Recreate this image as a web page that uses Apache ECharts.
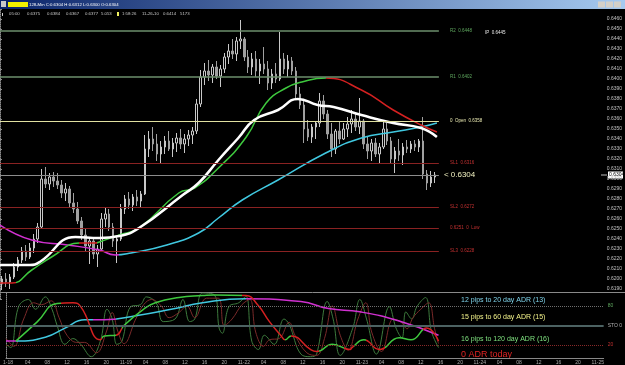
<!DOCTYPE html>
<html>
<head>
<meta charset="utf-8">
<script src="https://cdn.jsdelivr.net/npm/echarts@6/dist/echarts.min.js"></script>
<style>
html, body { margin: 0; padding: 0; background: #000; }
#chart { width: 625px; height: 365px; }
</style>
</head>
<body>
<div id="chart"></div>
<script>
// prices are kept in pips (0.6304 -> 6304)
const barOpen = [
  6195,6200,6197,6202,6212,6219,6228,6222,6231,6240, 6252,6300,6295,6302,6298,6294,6286,6290,6276,6270,
  6258,6244,6233,6238,6225,6230,6260,6265,6252,6238, 6240,6270,6280,6274,6282,6278,6285,6330,6340,6335,
  6325,6332,6338,6330,6336,6341,6335,6340,6344,6348, 6375,6402,6408,6404,6412,6403,6410,6422,6428,6425,
  6438,6440,6422,6412,6420,6408,6415,6410,6396,6405, 6400,6420,6410,6418,6408,6385,6374,6350,6342,6352,
  6356,6378,6365,6345,6330,6348,6340,6350,6355,6360, 6352,6358,6335,6328,6336,6325,6332,6350,6338,6320,
  6328,6324,6332,6330,6335,6332,6338,6305,6296,6302
];
const barHigh = [
  6203,6206,6205,6216,6222,6232,6234,6236,6245,6256, 6310,6312,6306,6307,6306,6299,6296,6293,6286,6277,
  6262,6250,6242,6242,6234,6266,6272,6270,6256,6244, 6275,6284,6287,6285,6289,6288,6344,6348,6352,6345,
  6338,6343,6348,6341,6346,6350,6345,6349,6352,6380, 6409,6416,6419,6415,6418,6414,6426,6435,6440,6442,
  6459,6442,6429,6426,6428,6420,6432,6418,6410,6416, 6447,6426,6424,6422,6412,6392,6378,6359,6355,6358,
  6386,6384,6369,6356,6350,6358,6356,6362,6369,6366, 6381,6360,6342,6340,6341,6336,6359,6356,6342,6332,
  6340,6336,6339,6338,6339,6340,6362,6309,6308,6307
];
const barLow = [
  6189,6192,6190,6200,6208,6216,6218,6220,6226,6236, 6250,6291,6289,6292,6290,6281,6278,6272,6266,6255,
  6239,6228,6215,6220,6212,6228,6252,6248,6232,6216, 6238,6265,6270,6268,6273,6272,6284,6322,6328,6318,
  6316,6325,6328,6322,6327,6330,6326,6333,6335,6345, 6372,6394,6398,6396,6400,6392,6406,6415,6420,6418,
  6430,6418,6406,6404,6402,6395,6405,6389,6390,6396, 6398,6405,6402,6404,6379,6370,6336,6338,6336,6340,
  6352,6360,6340,6322,6325,6335,6339,6342,6346,6348, 6345,6330,6320,6318,6322,6316,6330,6334,6315,6306,
  6318,6314,6326,6326,6328,6327,6300,6289,6292,6296
];
const barClose = [
  6200,6197,6202,6212,6219,6228,6222,6231,6240,6252, 6300,6295,6302,6298,6294,6286,6290,6276,6270,6258,
  6244,6233,6238,6225,6230,6260,6265,6252,6238,6240, 6270,6280,6274,6282,6278,6285,6330,6340,6335,6325,
  6332,6338,6330,6336,6341,6335,6340,6344,6348,6375, 6402,6408,6404,6412,6403,6410,6422,6428,6425,6438,
  6440,6422,6412,6420,6408,6415,6410,6396,6405,6400, 6420,6410,6418,6408,6385,6374,6350,6342,6352,6356,
  6378,6365,6345,6330,6348,6340,6350,6355,6360,6352, 6358,6335,6328,6336,6325,6332,6350,6338,6320,6328,
  6324,6332,6330,6335,6332,6338,6305,6296,6302,6304
];

// moving averages: [bar position, pips]
const maWhite = [[0,6214],[7.5,6214],[10,6217],[19,6242],[25,6241],[30,6243],[35,6251],[46,6284],[50,6296],
  [55,6319],[60,6341],[64,6359],[70,6369],[75,6380],[80,6374],[84,6372],[91,6364],[99,6356],[106,6351],[110,6342]];
const maGreen = [[0,6196],[3,6196],[8,6209],[13,6222],[20,6236],[24,6236],[25,6237],[30,6244],[35,6251],[45,6286],
  [49,6291],[55,6311],[62,6342],[67,6376],[72,6391],[76,6397],[82,6401],[91,6389],[99,6369],[106,6354],[110,6347]];
const maCyan = [[0,6254],[8,6239],[17,6234],[25,6229],[29,6224],[33,6226],[42,6234],[50,6246],[55,6261],[61,6279],
  [70,6299],[82,6326],[91,6341],[99,6347],[106,6352],[110,6356]];

// stochastic panel
const stochK = [[0,21],[1.2,16],[3.2,79],[5.7,90],[7.5,75],[10,94],[11.7,75],[13,50],[15,21],[17,30],[19,21],[21.7,2],
  [24,26],[25.7,75],[27,60],[28.2,21],[29.5,26],[31.7,79],[34.2,82],[35.7,94],[38.2,85],[40,56],[43,60],[45,90],
  [46.7,56],[48,60],[50,100],[53,97],[54.2,46],[55,38],[56.7,79],[59.2,85],[61,95],[62.5,26],[64.2,13],[65.7,35],
  [68.2,21],[70.7,60],[72,52],[75,6],[77.5,2],[79,6],[81.7,87],[83.2,60],[85,4],[88.2,46],[90,90],[91.7,60],
  [94.2,6],[97.5,79],[99.2,46],[100.7,31],[101.7,71],[103.2,60],[104.5,79],[106.7,93],[108.2,41],[110,16]];
const stochD = [[0,30],[2,18],[4.5,60],[7,85],[9,82],[11.5,88],[13.5,62],[15.5,35],[18,24],[20,24],[23,8],[25.5,40],
  [27,70],[28.5,40],[30,22],[33,60],[35,82],[37,90],[39.5,80],[41.5,62],[44,70],[46,80],[48,62],[51,92],[54,92],
  [55.5,50],[57.5,60],[60,82],[62,90],[63.5,40],[65.5,18],[67,28],[69.5,30],[72,55],[73.5,35],[76.5,8],[79,4],
  [81,30],[83,80],[85,35],[87,12],[89.5,60],[91.5,85],[93,40],[95.5,10],[98.5,60],[100.5,55],[102,45],[103.5,62],
  [105.5,75],[107.5,85],[109,45],[110,22]];
const stochSlow = [[0,26],[2.5,26],[10,32],[15,46],[20,59],[25,59],[33,65],[42,75],[50,85],[61,91],[75,87],[82,76],
  [90,71],[100,57],[110,35]];
const stochMid = [[2.5,26],[8,56],[13,84],[17,85],[19,79],[24,28],[25,34],[28,35],[30,50],[35,75],[38,85],[44,93],
  [50,96],[53,97],[61,96],[64,82],[67,56],[70,34],[71,28],[72.5,34],[77.5,13],[79,10],[83,21],[87.5,13],[88,16],
  [91,28],[95,13],[100,31],[103,28],[107,46],[110,26]];

const levelValues = [6448, 6402, 6358, 6316, 6272, 6251, 6228];
const levelTexts = ['R2  0.6448', 'R1  0.6402', '0  Open  0.6358', 'SL1  0.6316', 'SL2  0.6272', '0.6251  0  Low', 'SL3  0.6228'];
const lastPrice = 6304;
const stochLevelTexts = {80: '80', 50: 'STO 0', 20: '20'};

const timeLabels = ['1-18','04','08','12','16','20','11-19','04','08','12','16','20','11-22','04','08','12',
  '16','20','11-23','04','08','12','16','20','11-24','04','08','12','16','20','11-25'];
const headerValues = ['05:00','0.6375','0.6384','0.6367','0.6377','5.053','1:58:26','11-26-10','0.6414','5173'];
const adrTexts = ['12 pips to 20 day ADR (13)', '15 pips to 60 day ADR (15)', '16 pips to 120 day ADR (16)', '0 ADR today'];
const titleText = '128-Min C:0.6304 H:0.6312 L:0.6300 O:0.6304';

const slotCount = 152;
const categories = [];
for (let i = 0; i < slotCount; i++) {
  categories.push(i % 5 === 0 ? timeLabels[i / 5] : String(i));
}
const candleData = barOpen.map((o, i) => [o, barClose[i], barLow[i], barHigh[i]]);

const FONT = 'Liberation Sans';
const levelColors = ['#6d8f6d', '#6d8f6d', '#e0e0a0', '#8a2222', '#8a2222', '#8a2222', '#8a2222'];
const levelLabelColors = ['#5fa85f', '#5fa85f', '#e8e8b0', '#c03030', '#c03030', '#c03030', '#c03030'];

const levelLines = levelValues.map((v, i) => [
  {xAxis: 0, yAxis: v, lineStyle: {color: levelColors[i], width: i < 2 ? 1.5 : 1, type: 'solid'},
    label: {show: true, position: 'end', formatter: levelTexts[i], color: levelLabelColors[i], fontSize: 4.5, fontFamily: FONT, distance: 11}},
  {xAxis: 110.5, yAxis: v}
]);
levelLines.push([
  {xAxis: 0, yAxis: lastPrice, lineStyle: {color: '#8c8c8c', width: 1, type: 'solid'},
    label: {show: true, position: 'end', formatter: '< ' + (lastPrice / 10000).toFixed(4), color: '#f0f0c0', fontSize: 8, fontFamily: FONT, distance: 5}},
  {xAxis: 110.5, yAxis: lastPrice}
]);

const stochLines = [
  {yAxis: 80, lineStyle: {color: '#707070', type: 'dotted', width: 1}},
  {yAxis: 50, lineStyle: {color: '#4c6262', type: 'solid', width: 2}},
  {yAxis: 20, lineStyle: {color: '#8a2a2a', type: 'dotted', width: 1}}
];

const chart = echarts.init(document.getElementById('chart'));

chart.setOption({
  backgroundColor: '#000',
  animation: false,
  grid: [
    {left: 0, right: 18, top: 9, height: 290},
    {left: 0, right: 18, top: 293, height: 68}
  ],
  xAxis: [
    {type: 'category', gridIndex: 0, data: categories, show: false},
    {type: 'category', gridIndex: 1, data: categories,
      axisLine: {lineStyle: {color: '#888'}},
      axisTick: {interval: (i) => i % 5 === 0, length: 2, lineStyle: {color: '#888'}},
      axisLabel: {interval: (i) => i % 5 === 0, formatter: (v, i) => i % 5 === 0 ? v : '',
        color: '#aaa', fontSize: 5, fontFamily: FONT, margin: 2}},
    {type: 'value', gridIndex: 0, min: 0, max: slotCount, show: false},
    {type: 'value', gridIndex: 1, min: 0, max: slotCount, show: false}
  ],
  yAxis: [
    {type: 'value', gridIndex: 0, position: 'right', min: 6180, max: 6470, interval: 10,
      splitLine: {show: false},
      axisLine: {show: true, lineStyle: {color: '#8c8c8c', type: 'dotted'}},
      axisTick: {show: true, length: 2, lineStyle: {color: '#8c8c8c'}},
      axisLabel: {color: '#c0c0c0', fontSize: 5, fontFamily: FONT, margin: 3,
        formatter: (v) => (v < 6190 || v > 6460) ? '' : (v / 10000).toFixed(4)}},
    {type: 'value', gridIndex: 1, position: 'right', min: 0, max: 100, interval: 10,
      splitLine: {show: false},
      axisLine: {show: true, lineStyle: {color: '#8c8c8c', type: 'dotted'}},
      axisTick: {show: false},
      axisLabel: {fontSize: 5, fontFamily: FONT, margin: 4,
        formatter: (v) => stochLevelTexts[v] || '',
        color: (v) => v == 80 ? '#5fa85f' : (v == 20 ? '#c03030' : '#b0b0b0')}}
  ],
  visualMap: [
    {show: false, type: 'piecewise', seriesIndex: 3, dimension: 0, pieces: [
      {gte: 0, lt: 4, color: '#d42020'}, {gte: 4, lt: 20, color: '#3ec83e'}, {gte: 20, lt: 24.5, color: '#d42020'},
      {gte: 24.5, lt: 82, color: '#3ec83e'}, {gte: 82, lte: 200, color: '#d42020'}]},
    {show: false, type: 'piecewise', seriesIndex: 2, dimension: 0, pieces: [
      {gte: 0, lt: 30, color: '#d030d0'}, {gte: 30, lte: 200, color: '#40c8e0'}]},
    {show: false, type: 'piecewise', seriesIndex: 8, dimension: 0, pieces: [
      {gte: 0, lt: 2.5, color: '#d030d0'}, {gte: 2.5, lt: 22, color: '#40c8e0'}, {gte: 22, lt: 28, color: '#d030d0'},
      {gte: 28, lt: 61, color: '#40c8e0'}, {gte: 61, lte: 200, color: '#d030d0'}]},
    {show: false, type: 'piecewise', seriesIndex: 9, dimension: 0, pieces: [
      {gte: 0, lt: 14, color: '#3ec83e'}, {gte: 14, lt: 24.5, color: '#d42020'}, {gte: 24.5, lt: 28, color: '#3ec83e'},
      {gte: 28, lt: 29.5, color: '#d42020'}, {gte: 29.5, lt: 60, color: '#3ec83e'}, {gte: 60, lt: 71, color: '#d42020'},
      {gte: 71, lt: 72.5, color: '#3ec83e'}, {gte: 72.5, lt: 79.5, color: '#d42020'}, {gte: 79.5, lt: 86, color: '#3ec83e'},
      {gte: 86, lt: 88.5, color: '#d42020'}, {gte: 88.5, lt: 91.5, color: '#3ec83e'}, {gte: 91.5, lt: 96.5, color: '#d42020'},
      {gte: 96.5, lt: 106, color: '#3ec83e'}, {gte: 106, lte: 200, color: '#d42020'}]}
  ],
  series: [
    {name: 'levels', type: 'line', xAxisIndex: 2, yAxisIndex: 0, data: [], silent: true,
      markLine: {symbol: 'none', silent: true, data: levelLines}},
    {name: 'price', type: 'candlestick', xAxisIndex: 0, yAxisIndex: 0, data: candleData, barWidth: 2,
      itemStyle: {color: '#000', color0: '#a0a0a0', borderColor: '#c8c8c8', borderColor0: '#a0a0a0', borderWidth: 1}},
    {name: 'ma slow', type: 'line', xAxisIndex: 2, yAxisIndex: 0, data: maCyan, smooth: true, symbol: 'none',
      lineStyle: {width: 1.5}},
    {name: 'ma mid', type: 'line', xAxisIndex: 2, yAxisIndex: 0, data: maGreen, smooth: true, symbol: 'none',
      lineStyle: {width: 1.5}},
    {name: 'ma fast', type: 'line', xAxisIndex: 2, yAxisIndex: 0, data: maWhite, smooth: true, symbol: 'none',
      lineStyle: {width: 2.5, color: '#ffffff'}},
    {name: 'sto levels', type: 'line', xAxisIndex: 3, yAxisIndex: 1, data: [], silent: true,
      markLine: {symbol: 'none', silent: true, label: {show: false}, data: stochLines}},
    {name: 'sto k', type: 'line', xAxisIndex: 3, yAxisIndex: 1, data: stochK, smooth: 0.4, symbol: 'none',
      lineStyle: {width: 1, color: '#3d7a3d'}},
    {name: 'sto d', type: 'line', xAxisIndex: 3, yAxisIndex: 1, data: stochD, smooth: 0.4, symbol: 'none',
      lineStyle: {width: 1, color: '#7a2a2a'}},
    {name: 'sto slow', type: 'line', xAxisIndex: 3, yAxisIndex: 1, data: stochSlow, smooth: true, symbol: 'none',
      lineStyle: {width: 1.5}},
    {name: 'sto mid', type: 'line', xAxisIndex: 3, yAxisIndex: 1, data: stochMid, smooth: true, symbol: 'none',
      lineStyle: {width: 1.5}}
  ]
});

// decorations: title bar, header row, notes and the price tag on the axis
const headerX = [9, 27, 47, 66, 85, 101, 122, 142, 163, 180];
const graphics = [
  {type: 'rect', shape: {x: 0, y: 0, width: 625, height: 9},
    style: {fill: new echarts.graphic.LinearGradient(0, 0, 1, 0, [{offset: 0, color: '#0a246a'}, {offset: 1, color: '#a6caf0'}])}},
  {type: 'rect', shape: {x: 1, y: 1, width: 5, height: 6}, style: {fill: '#c8c8c8'}},
  {type: 'rect', shape: {x: 8, y: 2, width: 20, height: 5}, style: {fill: '#f0f000'}},
  {type: 'text', x: 29, y: 4.5, style: {text: titleText, fill: '#ffffff', fontSize: 4.3, fontFamily: FONT, verticalAlign: 'middle'}},
  {type: 'rect', shape: {x: 598, y: 1.5, width: 7, height: 6}, style: {fill: '#d4d0c8'}},
  {type: 'rect', shape: {x: 606, y: 1.5, width: 7, height: 6}, style: {fill: '#d4d0c8'}},
  {type: 'rect', shape: {x: 614, y: 1.5, width: 7, height: 6}, style: {fill: '#d4d0c8'}},
  {type: 'rect', shape: {x: 2, y: 13, width: 1, height: 3}, style: {fill: '#c8c8c8'}},
  {type: 'rect', shape: {x: 117, y: 12, width: 2, height: 4}, style: {fill: '#f0f060'}},
  {type: 'line', shape: {x1: 0, y1: 292.5, x2: 625, y2: 292.5}, style: {stroke: '#8a8a8a', lineWidth: 1}},
  {type: 'text', x: 485, y: 33, style: {text: 'IP  0.6445', fill: '#e8e8e8', fontSize: 4.5, fontFamily: FONT, verticalAlign: 'middle'}}
];
headerValues.forEach((t, i) => {
  graphics.push({type: 'text', x: headerX[i], y: 14, style: {text: t, fill: '#c8c8c8', fontSize: 4.3, fontFamily: FONT, verticalAlign: 'middle'}});
});
const adrColors = ['#7fd3ea', '#f2f28a', '#7ee07e', '#e02424'];
const adrY = [300, 317, 339, 355];
adrTexts.forEach((t, i) => {
  graphics.push({type: 'text', x: 461, y: adrY[i], style: {text: t, fill: adrColors[i], fontSize: i === 3 ? 9 : 7, fontFamily: FONT, verticalAlign: 'middle'}});
});
const tagY = chart.convertToPixel({yAxisIndex: 0}, lastPrice);
graphics.push({type: 'line', shape: {x1: 601, y1: tagY, x2: 607, y2: tagY}, style: {stroke: '#bbbbbb', lineWidth: 1}});
graphics.push({type: 'rect', shape: {x: 608, y: tagY - 3.5, width: 15, height: 7}, style: {fill: '#ffffff'}});
graphics.push({type: 'text', x: 609, y: tagY, style: {text: (lastPrice / 10000).toFixed(4), fill: '#000', fontSize: 5, fontFamily: FONT, verticalAlign: 'middle'}});

chart.setOption({graphic: graphics});
</script>
</body>
</html>
